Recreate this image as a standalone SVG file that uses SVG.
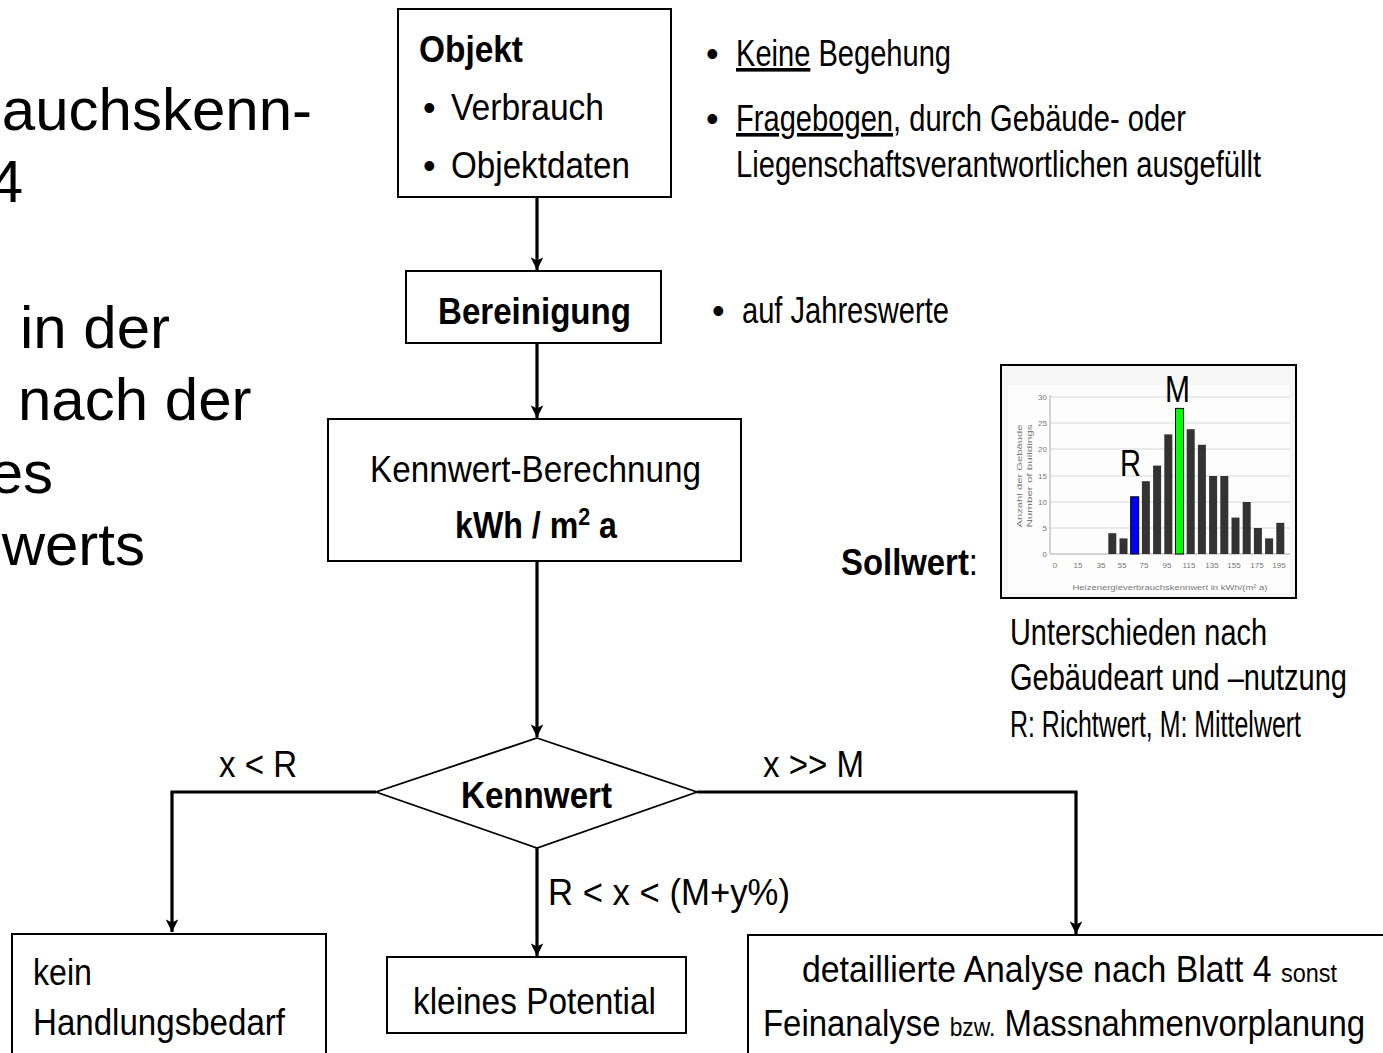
<svg xmlns="http://www.w3.org/2000/svg" width="1383" height="1053" viewBox="0 0 1383 1053">
<style>
.t{font-family:"Liberation Sans",Arial,sans-serif;fill:#000}
.n{font-family:"Liberation Sans",Arial,sans-serif;fill:#000;font-size:36px}
.b{font-weight:bold}
.box{fill:#fff;stroke:#000;stroke-width:2}
.con{fill:none;stroke:#000;stroke-width:3.2}
.grid{stroke:#d8d8d8;stroke-width:1}
.ax{font-family:"Liberation Sans",Arial,sans-serif;fill:#777;font-size:8px}
.bar{fill:#333}
</style>
<defs>
<marker id="arr" viewBox="0 0 12 12" refX="12" refY="6" markerWidth="4" markerHeight="4" orient="auto" markerUnits="strokeWidth">
<path d="M0,0 L12,6 L0,12 L3,6 z" fill="#000"/>
</marker>
</defs>
<rect width="1383" height="1053" fill="#fff"/>

<g id="left-text" class="t" font-size="60">
<text x="312" y="130" text-anchor="end">auchskenn-</text>
<text x="23" y="202" text-anchor="end">4</text>
<text x="20" y="348">in der</text>
<text x="18" y="420">nach der</text>
<text x="53" y="493" text-anchor="end">es</text>
<text x="145" y="565" text-anchor="end">werts</text>
</g>

<g id="connectors">
<line class="con" x1="537" y1="197" x2="537" y2="270" marker-end="url(#arr)"/>
<line class="con" x1="537" y1="343" x2="537" y2="418" marker-end="url(#arr)"/>
<line class="con" x1="537" y1="561" x2="537" y2="737" marker-end="url(#arr)"/>
<polyline class="con" points="376,792 172,792 172,932" marker-end="url(#arr)"/>
<polyline class="con" points="697,792 1076,792 1076,934" marker-end="url(#arr)"/>
<line class="con" x1="537" y1="848" x2="537" y2="956" marker-end="url(#arr)"/>
</g>

<g id="objekt">
<rect class="box" x="398" y="9" width="273" height="188"/>
<text class="n b" x="419" y="62" font-size="35" textLength="104" lengthAdjust="spacingAndGlyphs">Objekt</text>
<text class="n" x="423" y="120">•</text>
<text class="n" x="451" y="120" textLength="153" lengthAdjust="spacingAndGlyphs">Verbrauch</text>
<text class="n" x="423" y="178">•</text>
<text class="n" x="451" y="178" textLength="179" lengthAdjust="spacingAndGlyphs">Objektdaten</text>
</g>

<g id="bereinigung">
<rect class="box" x="406" y="271" width="255" height="72"/>
<text class="n b" x="438" y="324" textLength="193" lengthAdjust="spacingAndGlyphs">Bereinigung</text>
</g>

<g id="kennwert-berechnung">
<rect class="box" x="328" y="419" width="413" height="142"/>
<text class="n" x="370" y="482" font-size="37" textLength="331" lengthAdjust="spacingAndGlyphs">Kennwert-Berechnung</text>
<text class="n b" x="455" y="538" font-size="36" textLength="162" lengthAdjust="spacingAndGlyphs">kWh / m<tspan font-size="24" dy="-13">2</tspan><tspan dy="13"> a</tspan></text>
</g>

<g id="kennwert">
<polygon points="537,738 697,792 537,848 376,792" fill="#fff" stroke="#000" stroke-width="1.8"/>
<text class="n b" x="461" y="808" textLength="151" lengthAdjust="spacingAndGlyphs">Kennwert</text>
</g>

<g id="labels">
<text class="n" x="219" y="777" font-size="35" textLength="78" lengthAdjust="spacingAndGlyphs">x &lt; R</text>
<text class="n" x="763" y="777" font-size="35" textLength="101" lengthAdjust="spacingAndGlyphs">x &gt;&gt; M</text>
<text class="n" x="548" y="905" font-size="36" textLength="242" lengthAdjust="spacingAndGlyphs">R &lt; x &lt; (M+y%)</text>
</g>

<g id="kein-handlungsbedarf">
<rect class="box" x="12" y="934" width="314" height="130"/>
<text class="n" x="33" y="985" font-size="37" textLength="59" lengthAdjust="spacingAndGlyphs">kein</text>
<text class="n" x="33" y="1035" font-size="37" textLength="252" lengthAdjust="spacingAndGlyphs">Handlungsbedarf</text>
</g>

<g id="kleines-potential">
<rect class="box" x="387" y="957" width="299" height="76"/>
<text class="n" x="413" y="1014" font-size="37" textLength="243" lengthAdjust="spacingAndGlyphs">kleines Potential</text>
</g>

<g id="detaillierte-analyse">
<rect class="box" x="748" y="935" width="650" height="130"/>
<text class="n" x="802" y="982" font-size="37" textLength="535" lengthAdjust="spacingAndGlyphs">detaillierte Analyse nach Blatt 4 <tspan font-size="25">sonst</tspan></text>
<text class="n" x="763" y="1036" font-size="37" textLength="602" lengthAdjust="spacingAndGlyphs">Feinanalyse <tspan font-size="25">bzw.</tspan> Massnahmenvorplanung</text>
</g>

<g id="notes-objekt">
<text class="n" x="706" y="66">•</text>
<text class="n" x="736" y="66" textLength="215" lengthAdjust="spacingAndGlyphs"><tspan text-decoration="underline">Keine</tspan> Begehung</text>
<text class="n" x="706" y="131">•</text>
<text class="n" x="736" y="131" textLength="450" lengthAdjust="spacingAndGlyphs"><tspan text-decoration="underline">Fragebogen</tspan>, durch Gebäude- oder</text>
<text class="n" x="736" y="177" textLength="525" lengthAdjust="spacingAndGlyphs">Liegenschaftsverantwortlichen ausgefüllt</text>
</g>

<g id="notes-bereinigung">
<text class="n" x="712" y="323">•</text>
<text class="n" x="742" y="323" textLength="207" lengthAdjust="spacingAndGlyphs">auf Jahreswerte</text>
</g>

<g id="sollwert">
<text class="n" x="841" y="575" font-size="38" textLength="137" lengthAdjust="spacingAndGlyphs"><tspan font-weight="bold">Sollwert</tspan>:</text>
<text class="n" x="1010" y="645" textLength="257" lengthAdjust="spacingAndGlyphs">Unterschieden nach</text>
<text class="n" x="1010" y="690" textLength="337" lengthAdjust="spacingAndGlyphs">Gebäudeart und –nutzung</text>
<text class="n" x="1010" y="737" font-size="27" textLength="291" lengthAdjust="spacingAndGlyphs">R: Richtwert, M: Mittelwert</text>
</g>

<g id="chart">
<rect x="1001" y="365" width="295" height="233" fill="#f6f6f6" stroke="#000" stroke-width="2"/>
<rect x="1008" y="385" width="282" height="208" fill="#fdfdfd"/>
<g>
<line class="grid" x1="1050" y1="397" x2="1290" y2="397"/>
<line class="grid" x1="1050" y1="423" x2="1290" y2="423"/>
<line class="grid" x1="1050" y1="449" x2="1290" y2="449"/>
<line class="grid" x1="1050" y1="476" x2="1290" y2="476"/>
<line class="grid" x1="1050" y1="502" x2="1290" y2="502"/>
<line class="grid" x1="1050" y1="528" x2="1290" y2="528"/>
<line x1="1050" y1="554" x2="1290" y2="554" stroke="#aaa" stroke-width="1"/>
<line x1="1050" y1="395" x2="1050" y2="554" stroke="#aaa" stroke-width="1"/>
</g>
<g class="ax" text-anchor="end" font-size="7">
<text x="1047" y="400">30</text><text x="1047" y="426">25</text><text x="1047" y="452">20</text>
<text x="1047" y="479">15</text><text x="1047" y="505">10</text><text x="1047" y="531">5</text><text x="1047" y="557">0</text>
</g>
<g class="ax" text-anchor="middle">
<text x="1055" y="568">0</text><text x="1078" y="568">15</text><text x="1101" y="568">35</text><text x="1122" y="568">55</text>
<text x="1144" y="568">75</text><text x="1167" y="568">95</text><text x="1189" y="568">115</text><text x="1212" y="568">135</text>
<text x="1234" y="568">155</text><text x="1257" y="568">175</text><text x="1279" y="568">195</text>
</g>
<text class="ax" x="1170" y="590" font-size="9.5" text-anchor="middle" textLength="195" lengthAdjust="spacingAndGlyphs">Heizenergieverbrauchskennwert in kWh/(m² a)</text>
<text class="ax" font-size="10" text-anchor="middle" transform="translate(1022,476) rotate(-90)" textLength="103" lengthAdjust="spacingAndGlyphs">Anzahl der Gebäude</text>
<text class="ax" font-size="10" text-anchor="middle" transform="translate(1032,476) rotate(-90)" textLength="103" lengthAdjust="spacingAndGlyphs">Number of buildings</text>
<g>
<rect class="bar" x="1108.3" y="533.2" width="8" height="20.8"/>
<rect class="bar" x="1119.5" y="538.4" width="8" height="15.6"/>
<rect x="1130.7" y="496.8" width="8" height="57.2" fill="#0000ff" stroke="#000" stroke-width="1"/>
<rect class="bar" x="1141.9" y="481.2" width="8" height="72.8"/>
<rect class="bar" x="1153.1" y="465.6" width="8" height="88.4"/>
<rect class="bar" x="1164.3" y="434.4" width="8" height="119.6"/>
<rect x="1175.5" y="408.4" width="8" height="145.6" fill="#00ff00" stroke="#000" stroke-width="1"/>
<rect class="bar" x="1186.7" y="429.2" width="8" height="124.8"/>
<rect class="bar" x="1197.9" y="444.8" width="8" height="109.2"/>
<rect class="bar" x="1209.1" y="476" width="8" height="78"/>
<rect class="bar" x="1220.3" y="476" width="8" height="78"/>
<rect class="bar" x="1231.5" y="517.6" width="8" height="36.4"/>
<rect class="bar" x="1242.7" y="502" width="8" height="52"/>
<rect class="bar" x="1253.9" y="528" width="8" height="26"/>
<rect class="bar" x="1265.1" y="538.4" width="8" height="15.6"/>
<rect class="bar" x="1276.3" y="522.8" width="8" height="31.2"/>
</g>
<text class="n" x="1165" y="402" font-size="33" textLength="25" lengthAdjust="spacingAndGlyphs">M</text>
<text class="n" x="1120" y="476" font-size="33" textLength="21" lengthAdjust="spacingAndGlyphs">R</text>
</g>
</svg>
